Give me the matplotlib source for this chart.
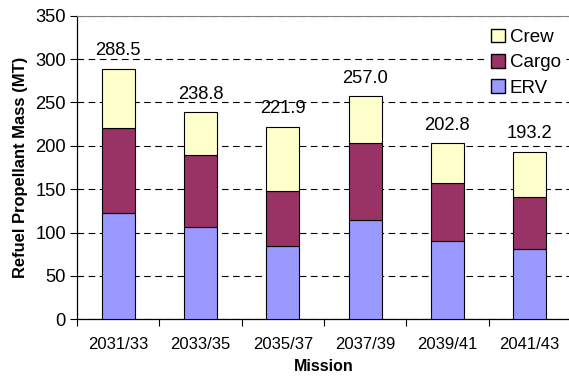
import numpy as np
import matplotlib
matplotlib.use('Agg')
import matplotlib.pyplot as plt
from matplotlib.patches import Patch

missions = ["2031/33", "2033/35", "2035/37", "2037/39", "2039/41", "2041/43"]
erv = [122.9, 106.8, 84.9, 114.5, 89.9, 81.0]
cargo = [98.0, 83.0, 63.0, 89.1, 67.2, 59.6]
crew = [67.6, 49.0, 74.0, 53.4, 45.7, 52.6]
totals = [288.5, 238.8, 221.9, 257.0, 202.8, 193.2]

plt.rcParams['font.family'] = ['Liberation Sans', 'DejaVu Sans']

fig = plt.figure(figsize=(5.69, 3.82), dpi=100)
ax = fig.add_axes([0.1353, 0.164, 0.868, 0.795])

x = np.arange(len(missions))
w = 0.4
erv_c, cargo_c, crew_c = "#9999FF", "#993366", "#FFFFCC"
ax.bar(x, erv, w, color=erv_c, edgecolor="black", linewidth=0.8, zorder=3)
ax.bar(x, cargo, w, bottom=erv, color=cargo_c, edgecolor="black", linewidth=0.8, zorder=3)
bot2 = np.array(erv) + np.array(cargo)
ax.bar(x, crew, w, bottom=bot2, color=crew_c, edgecolor="black", linewidth=0.8, zorder=3)

for xi, t in zip(x, totals):
    ax.text(xi, t + 11, f"{t:.1f}", ha="center", va="bottom", fontsize=13.2)

ax.set_xlim(-0.5, len(missions) - 0.5)
ax.set_ylim(0, 350)
ax.set_yticks(range(0, 351, 50))
ax.yaxis.grid(True, linestyle=(0, (6, 4)), color="black", linewidth=0.8, zorder=0)

# category boundaries carry the tick marks, labels sit at the centres
ax.set_xticks(np.arange(-0.5, len(missions), 1.0))
ax.set_xticklabels([])
ax.set_xticks(x, minor=True)
ax.set_xticklabels(missions, minor=True, fontsize=12)
ax.tick_params(axis="x", which="minor", length=0, pad=13)
ax.tick_params(axis="x", which="major", length=5, direction="out")
ax.tick_params(axis="y", length=5, direction="out", labelsize=13.2, pad=3)

ax.spines["right"].set_visible(False)
ax.spines["top"].set_color("#808080")
ax.spines["left"].set_linewidth(0.9)
ax.spines["bottom"].set_linewidth(0.9)

ax.set_xlabel("Mission", fontsize=11.5, fontweight="bold", labelpad=5)
ax.set_ylabel("Refuel Propellant Mass (MT)", fontsize=11.9, fontweight="bold", labelpad=5)

handles = [Patch(facecolor=crew_c, edgecolor="black", label="Crew"),
           Patch(facecolor=cargo_c, edgecolor="black", label="Cargo"),
           Patch(facecolor=erv_c, edgecolor="black", label="ERV")]
leg = ax.legend(handles=handles, loc="upper right", bbox_to_anchor=(0.997, 0.985),
                frameon=True, fancybox=False, framealpha=1,
                fontsize=13.5, handlelength=0.75, handleheight=0.75, handletextpad=0.25,
                labelspacing=0.42, borderaxespad=0.2, borderpad=0.25)
leg.get_frame().set_facecolor("white")
leg.get_frame().set_edgecolor("none")
leg.set_zorder(5)

fig.savefig("out.png", dpi=100)
